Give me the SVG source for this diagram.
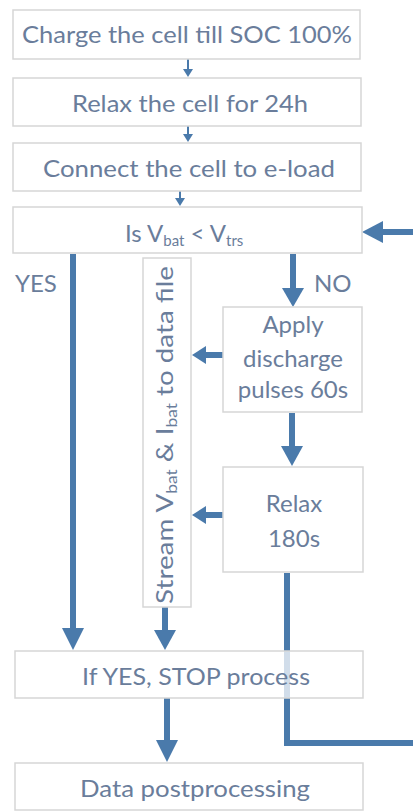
<svg xmlns="http://www.w3.org/2000/svg" width="413" height="811" viewBox="0 0 413 811">
<defs>
<style>
.box{fill:#ffffff;stroke:#d6d6d6;stroke-width:1.5}
.boxt{fill:#ffffff;fill-opacity:0.75;stroke:#d6d6d6;stroke-width:1.5}
.t{font-family:Lato,"Liberation Sans",sans-serif;font-size:24px;fill:#6a7d9b}
.c{text-anchor:middle}
.thin{stroke:#4a7aab;stroke-width:2;fill:none}
.thick{stroke:#4a7aab;stroke-width:6;fill:none}
.head{fill:#4a7aab}
</style>
</defs>
<g id="connectors">
<line class="thin" x1="188" y1="59" x2="188" y2="70"/>
<polygon class="head" points="183,69 193,69 188,77"/>
<line class="thin" x1="188" y1="126" x2="188" y2="135"/>
<polygon class="head" points="183,134 193,134 188,142"/>
<line class="thin" x1="180" y1="191" x2="180" y2="199"/>
<polygon class="head" points="175,198 185,198 180,206"/>
<line class="thick" x1="73" y1="254" x2="73" y2="630"/>
<polygon class="head" points="62,628 84,628 73,650"/>
<line class="thick" x1="165" y1="607" x2="165" y2="632"/>
<polygon class="head" points="154,630 176,630 165,650"/>
<line class="thick" x1="293" y1="254" x2="293" y2="290"/>
<polygon class="head" points="282,288 304,288 293,307"/>
<line class="thick" x1="292" y1="413" x2="292" y2="448"/>
<polygon class="head" points="281,446 303,446 292,466"/>
<line class="thick" x1="223" y1="355" x2="204" y2="355"/>
<polygon class="head" points="206,346 206,364 192,355"/>
<line class="thick" x1="223" y1="515" x2="204" y2="515"/>
<polygon class="head" points="206,506 206,524 192,515"/>
<polyline class="thick" points="287,573 287,743 413,743"/>
<line class="thick" x1="413" y1="232" x2="381" y2="232"/>
<polygon class="head" points="383,221 383,243 362,232"/>
<line class="thick" x1="167" y1="698" x2="167" y2="742"/>
<polygon class="head" points="156,740 178,740 167,762"/>
</g>
<g id="n1"><rect class="box" x="13" y="10" width="347" height="49"/><text class="t c" x="187" y="43" textLength="330" lengthAdjust="spacingAndGlyphs">Charge the cell till SOC 100%</text></g>
<g id="n2"><rect class="box" x="13" y="78" width="348" height="48"/><text class="t c" x="190" y="112" textLength="236" lengthAdjust="spacingAndGlyphs">Relax the cell for 24h</text></g>
<g id="n3"><rect class="box" x="13" y="143" width="348" height="48"/><text class="t c" x="189" y="177" textLength="292" lengthAdjust="spacingAndGlyphs">Connect the cell to e-load</text></g>
<g id="n4"><rect class="box" x="13" y="207" width="349" height="46"/><text class="t" x="125" y="242">Is V<tspan font-size="15" dy="4">bat</tspan><tspan dy="-4"> &lt; V</tspan><tspan font-size="15" dy="4">trs</tspan></text></g>
<g id="yes"><text class="t" x="15" y="292">YES</text></g>
<g id="no"><text class="t" x="314" y="292">NO</text></g>
<g id="n5"><rect class="box" x="143" y="258" width="48" height="349"/><text class="t" transform="translate(173,604) rotate(-90)" textLength="338" lengthAdjust="spacingAndGlyphs">Stream V<tspan font-size="15" dy="4">bat</tspan><tspan dy="-4"> &amp; I</tspan><tspan font-size="15" dy="4">bat</tspan><tspan dy="-4"> to data file</tspan></text></g>
<g id="n6"><rect class="box" x="223" y="307" width="139" height="105"/><text class="t c" x="293" y="333">Apply</text><text class="t c" x="293" y="367">discharge</text><text class="t c" x="293" y="398">pulses 60s</text></g>
<g id="n7"><rect class="box" x="223" y="467" width="140" height="105"/><text class="t c" x="294" y="512">Relax</text><text class="t c" x="294" y="547">180s</text></g>
<g id="n8"><rect class="boxt" x="15" y="651" width="348" height="47"/><text class="t c" x="196" y="685" textLength="228" lengthAdjust="spacingAndGlyphs">If YES, STOP process</text></g>
<g id="n9"><rect class="box" x="15" y="763" width="348" height="47"/><text class="t c" x="195" y="797" textLength="230" lengthAdjust="spacingAndGlyphs">Data postprocessing</text></g>
</svg>
